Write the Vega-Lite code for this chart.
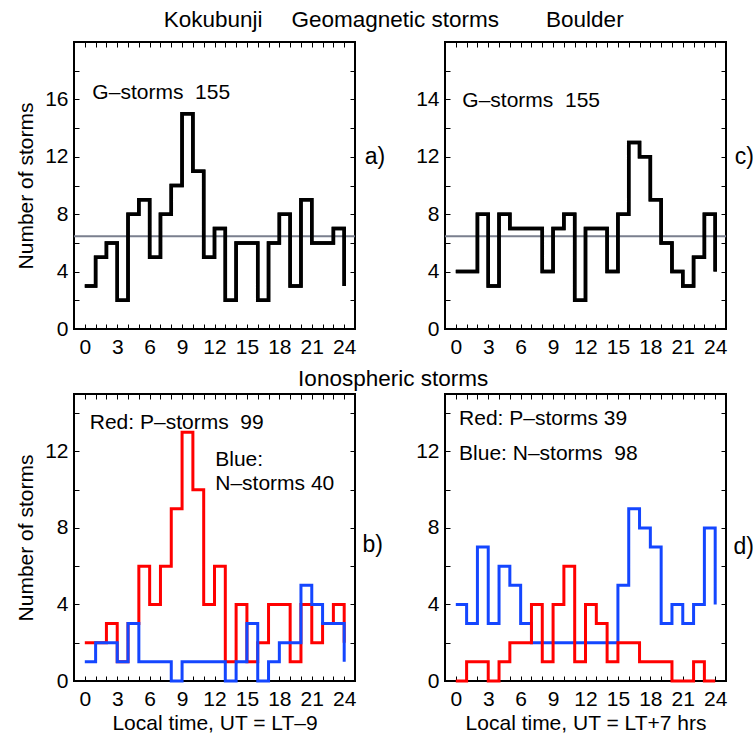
{
  "$schema": "https://vega.github.io/schema/vega-lite/v6.json",
  "padding": {"left": 14, "top": 8, "right": 0, "bottom": 0},
  "config": {
    "font": "Liberation Sans",
    "view": {"stroke": "black", "strokeWidth": 2},
    "axis": {
      "domain": false, "grid": false, "tickSize": -5, "tickColor": "black", "tickWidth": 1,
      "labelFontSize": 21, "labelColor": "black", "labelPadding": 11, "labelFlush": false, "labelOverlap": false,
      "labelFont": "Liberation Sans", "titleFont": "Liberation Sans", "minExtent": 0,
      "titleFontSize": 21, "titleFontWeight": "normal", "titleColor": "black"
    },
    "axisBottom": {"labelPadding": 12, "titlePadding": 3},
    "axisLeft": {"titlePadding": 8},
    "text": {"font": "Liberation Sans", "fontSize": 21, "color": "black"}
  },
  "datasets": {
    "note": [{}],
    "kokubunji_g": [
      {"hour": 0, "storms": 3}, {"hour": 1, "storms": 5}, {"hour": 2, "storms": 6}, {"hour": 3, "storms": 2},
      {"hour": 4, "storms": 8}, {"hour": 5, "storms": 9}, {"hour": 6, "storms": 5}, {"hour": 7, "storms": 8},
      {"hour": 8, "storms": 10}, {"hour": 9, "storms": 15}, {"hour": 10, "storms": 11}, {"hour": 11, "storms": 5},
      {"hour": 12, "storms": 7}, {"hour": 13, "storms": 2}, {"hour": 14, "storms": 6}, {"hour": 15, "storms": 6},
      {"hour": 16, "storms": 2}, {"hour": 17, "storms": 6}, {"hour": 18, "storms": 8}, {"hour": 19, "storms": 3},
      {"hour": 20, "storms": 9}, {"hour": 21, "storms": 6}, {"hour": 22, "storms": 6}, {"hour": 23, "storms": 7},
      {"hour": 24, "storms": 3}
    ],
    "boulder_g": [
      {"hour": 0, "storms": 4}, {"hour": 1, "storms": 4}, {"hour": 2, "storms": 8}, {"hour": 3, "storms": 3},
      {"hour": 4, "storms": 8}, {"hour": 5, "storms": 7}, {"hour": 6, "storms": 7}, {"hour": 7, "storms": 7},
      {"hour": 8, "storms": 4}, {"hour": 9, "storms": 7}, {"hour": 10, "storms": 8}, {"hour": 11, "storms": 2},
      {"hour": 12, "storms": 7}, {"hour": 13, "storms": 7}, {"hour": 14, "storms": 4}, {"hour": 15, "storms": 8},
      {"hour": 16, "storms": 13}, {"hour": 17, "storms": 12}, {"hour": 18, "storms": 9}, {"hour": 19, "storms": 6},
      {"hour": 20, "storms": 4}, {"hour": 21, "storms": 3}, {"hour": 22, "storms": 5}, {"hour": 23, "storms": 8},
      {"hour": 24, "storms": 4}
    ],
    "kokubunji_p": [
      {"hour": 0, "storms": 2}, {"hour": 1, "storms": 2}, {"hour": 2, "storms": 3}, {"hour": 3, "storms": 1},
      {"hour": 4, "storms": 3}, {"hour": 5, "storms": 6}, {"hour": 6, "storms": 4}, {"hour": 7, "storms": 6},
      {"hour": 8, "storms": 9}, {"hour": 9, "storms": 13}, {"hour": 10, "storms": 10}, {"hour": 11, "storms": 4},
      {"hour": 12, "storms": 6}, {"hour": 13, "storms": 1}, {"hour": 14, "storms": 4}, {"hour": 15, "storms": 1},
      {"hour": 16, "storms": 2}, {"hour": 17, "storms": 4}, {"hour": 18, "storms": 4}, {"hour": 19, "storms": 1},
      {"hour": 20, "storms": 4}, {"hour": 21, "storms": 2}, {"hour": 22, "storms": 3}, {"hour": 23, "storms": 4},
      {"hour": 24, "storms": 2}
    ],
    "kokubunji_n": [
      {"hour": 0, "storms": 1}, {"hour": 1, "storms": 2}, {"hour": 2, "storms": 2}, {"hour": 3, "storms": 1},
      {"hour": 4, "storms": 3}, {"hour": 5, "storms": 1}, {"hour": 6, "storms": 1}, {"hour": 7, "storms": 1},
      {"hour": 8, "storms": 0}, {"hour": 9, "storms": 1}, {"hour": 10, "storms": 1}, {"hour": 11, "storms": 1},
      {"hour": 12, "storms": 1}, {"hour": 13, "storms": 0}, {"hour": 14, "storms": 1}, {"hour": 15, "storms": 3},
      {"hour": 16, "storms": 0}, {"hour": 17, "storms": 1}, {"hour": 18, "storms": 2}, {"hour": 19, "storms": 2},
      {"hour": 20, "storms": 5}, {"hour": 21, "storms": 4}, {"hour": 22, "storms": 3}, {"hour": 23, "storms": 3},
      {"hour": 24, "storms": 1}
    ],
    "boulder_p": [
      {"hour": 0, "storms": 0}, {"hour": 1, "storms": 1}, {"hour": 2, "storms": 1}, {"hour": 3, "storms": 0},
      {"hour": 4, "storms": 1}, {"hour": 5, "storms": 2}, {"hour": 6, "storms": 2}, {"hour": 7, "storms": 4},
      {"hour": 8, "storms": 1}, {"hour": 9, "storms": 4}, {"hour": 10, "storms": 6}, {"hour": 11, "storms": 1},
      {"hour": 12, "storms": 4}, {"hour": 13, "storms": 3}, {"hour": 14, "storms": 1}, {"hour": 15, "storms": 2},
      {"hour": 16, "storms": 2}, {"hour": 17, "storms": 1}, {"hour": 18, "storms": 1}, {"hour": 19, "storms": 1},
      {"hour": 20, "storms": 0}, {"hour": 21, "storms": 0}, {"hour": 22, "storms": 1}, {"hour": 23, "storms": 0},
      {"hour": 24, "storms": 0}
    ],
    "boulder_n": [
      {"hour": 0, "storms": 4}, {"hour": 1, "storms": 3}, {"hour": 2, "storms": 7}, {"hour": 3, "storms": 3},
      {"hour": 4, "storms": 6}, {"hour": 5, "storms": 5}, {"hour": 6, "storms": 3}, {"hour": 7, "storms": 2},
      {"hour": 8, "storms": 2}, {"hour": 9, "storms": 2}, {"hour": 10, "storms": 2}, {"hour": 11, "storms": 2},
      {"hour": 12, "storms": 2}, {"hour": 13, "storms": 2}, {"hour": 14, "storms": 2}, {"hour": 15, "storms": 5},
      {"hour": 16, "storms": 9}, {"hour": 17, "storms": 8}, {"hour": 18, "storms": 7}, {"hour": 19, "storms": 3},
      {"hour": 20, "storms": 4}, {"hour": 21, "storms": 3}, {"hour": 22, "storms": 4}, {"hour": 23, "storms": 8},
      {"hour": 24, "storms": 4}
    ]
  },
  "bounds": "flush",
  "columns": 2,
  "spacing": {"row": 65, "column": 90},
  "concat": [
    {
      "width": 281, "height": 287,
      "resolve": {"axis": {"x": "independent", "y": "independent"}},
      "layer": [
        {
          "data": {"name": "kokubunji_g"},
          "transform": [{"filter": {"field": "hour", "lt": 24}}, {"aggregate": [{"op": "mean", "field": "storms", "as": "mean_storms"}]}],
          "mark": {"type": "rule", "color": "#7a7f8e", "strokeWidth": 2},
          "encoding": {"y": {"field": "mean_storms", "type": "quantitative", "axis": null, "scale": {"domain": [0, 20], "nice": false}}}
        },
        {
          "data": {"name": "kokubunji_g"},
          "mark": {"type": "line", "interpolate": "step-after", "color": "black", "strokeWidth": 3.5, "strokeJoin": "miter"},
          "encoding": {
            "x": {"field": "hour", "type": "quantitative", "scale": {"domain": [-1, 25], "nice": false, "zero": false},
                  "axis": {"orient": "bottom", "values": [0,1,2,3,4,5,6,7,8,9,10,11,12,13,14,15,16,17,18,19,20,21,22,23,24], "labelExpr": "datum.value % 3 === 0 ? datum.label : ''", "title": null}},
            "y": {"field": "storms", "type": "quantitative", "scale": {"domain": [0, 20], "nice": false},
                  "axis": {"orient": "left", "values": [0,2,4,6,8,10,12,14,16,18], "labelExpr": "datum.value % 4 === 0 ? datum.label : ''", "title": "Number of storms"}}
          }
        },
        {
          "data": {"name": "kokubunji_g"},
          "mark": {"type": "line", "interpolate": "step-after", "color": "black", "strokeWidth": 3.5, "strokeJoin": "miter"},
          "encoding": {
            "x": {"field": "hour", "type": "quantitative", "axis": {"orient": "top", "values": [0,1,2,3,4,5,6,7,8,9,10,11,12,13,14,15,16,17,18,19,20,21,22,23,24], "labels": false, "title": null}},
            "y": {"field": "storms", "type": "quantitative", "axis": {"orient": "right", "values": [0,2,4,6,8,10,12,14,16,18], "labels": false, "title": null}}
          }
        },
        {
          "data": {"name": "note"},
          "mark": {"type": "text", "align": "left", "baseline": "alphabetic", "text": "G–storms\u00a0 155"},
          "encoding": {"x": {"datum": 0.7, "type": "quantitative", "axis": null}, "y": {"datum": 16, "type": "quantitative", "axis": null}}
        },
        {
          "data": {"name": "note"},
          "mark": {"type": "text", "align": "center", "baseline": "alphabetic", "fontSize": 22.5, "text": "Kokubunji"},
          "encoding": {"x": {"datum": 11.87, "type": "quantitative", "axis": null}, "y": {"datum": 21.03, "type": "quantitative", "axis": null}}
        },
        {
          "data": {"name": "note"},
          "mark": {"type": "text", "align": "center", "baseline": "alphabetic", "fontSize": 22.5, "text": "Geomagnetic storms"},
          "encoding": {"x": {"datum": 28.72, "type": "quantitative", "axis": null}, "y": {"datum": 21.03, "type": "quantitative", "axis": null}}
        },
        {
          "data": {"name": "note"},
          "mark": {"type": "text", "align": "left", "baseline": "middle", "fontSize": 23, "text": "a)"},
          "encoding": {"x": {"datum": 25.9, "type": "quantitative", "axis": null}, "y": {"datum": 12, "type": "quantitative", "axis": null}}
        }
      ]
    },
    {
      "width": 281, "height": 287,
      "resolve": {"axis": {"x": "independent", "y": "independent"}},
      "layer": [
        {
          "data": {"name": "boulder_g"},
          "transform": [{"filter": {"field": "hour", "lt": 24}}, {"aggregate": [{"op": "mean", "field": "storms", "as": "mean_storms"}]}],
          "mark": {"type": "rule", "color": "#7a7f8e", "strokeWidth": 2},
          "encoding": {"y": {"field": "mean_storms", "type": "quantitative", "axis": null, "scale": {"domain": [0, 20], "nice": false}}}
        },
        {
          "data": {"name": "boulder_g"},
          "mark": {"type": "line", "interpolate": "step-after", "color": "black", "strokeWidth": 3.5, "strokeJoin": "miter"},
          "encoding": {
            "x": {"field": "hour", "type": "quantitative", "scale": {"domain": [-1, 25], "nice": false, "zero": false},
                  "axis": {"orient": "bottom", "values": [0,1,2,3,4,5,6,7,8,9,10,11,12,13,14,15,16,17,18,19,20,21,22,23,24], "labelExpr": "datum.value % 3 === 0 ? datum.label : ''", "title": null}},
            "y": {"field": "storms", "type": "quantitative", "scale": {"domain": [0, 20], "nice": false},
                  "axis": {"orient": "left", "values": [0,2,4,6,8,10,12,14,16,18], "labelExpr": "datum.value === 16 ? '14' : (datum.value % 4 === 0 ? datum.label : '')", "title": null}}
          }
        },
        {
          "data": {"name": "boulder_g"},
          "mark": {"type": "line", "interpolate": "step-after", "color": "black", "strokeWidth": 3.5, "strokeJoin": "miter"},
          "encoding": {
            "x": {"field": "hour", "type": "quantitative", "axis": {"orient": "top", "values": [0,1,2,3,4,5,6,7,8,9,10,11,12,13,14,15,16,17,18,19,20,21,22,23,24], "labels": false, "title": null}},
            "y": {"field": "storms", "type": "quantitative", "axis": {"orient": "right", "values": [0,2,4,6,8,10,12,14,16,18], "labels": false, "title": null}}
          }
        },
        {
          "data": {"name": "note"},
          "mark": {"type": "text", "align": "left", "baseline": "alphabetic", "text": "G–storms\u00a0 155"},
          "encoding": {"x": {"datum": 0.6, "type": "quantitative", "axis": null}, "y": {"datum": 15.5, "type": "quantitative", "axis": null}}
        },
        {
          "data": {"name": "note"},
          "mark": {"type": "text", "align": "center", "baseline": "alphabetic", "fontSize": 22.5, "text": "Boulder"},
          "encoding": {"x": {"datum": 11.94, "type": "quantitative", "axis": null}, "y": {"datum": 21.03, "type": "quantitative", "axis": null}}
        },
        {
          "data": {"name": "note"},
          "mark": {"type": "text", "align": "left", "baseline": "middle", "fontSize": 23, "text": "c)"},
          "encoding": {"x": {"datum": 25.8, "type": "quantitative", "axis": null}, "y": {"datum": 12, "type": "quantitative", "axis": null}}
        }
      ]
    },
    {
      "width": 281, "height": 287,
      "resolve": {"axis": {"x": "independent", "y": "independent"}},
      "layer": [
        {
          "data": {"name": "kokubunji_p"},
          "mark": {"type": "line", "interpolate": "step-after", "color": "#ff0000", "strokeWidth": 3, "strokeJoin": "miter"},
          "encoding": {
            "x": {"field": "hour", "type": "quantitative", "scale": {"domain": [-1, 25], "nice": false, "zero": false},
                  "axis": {"orient": "bottom", "values": [0,1,2,3,4,5,6,7,8,9,10,11,12,13,14,15,16,17,18,19,20,21,22,23,24], "labelExpr": "datum.value % 3 === 0 ? datum.label : ''", "title": "Local time, UT = LT–9"}},
            "y": {"field": "storms", "type": "quantitative", "scale": {"domain": [0, 15], "nice": false},
                  "axis": {"orient": "left", "values": [0,2,4,6,8,10,12,14], "labelExpr": "datum.value % 4 === 0 ? datum.label : ''", "title": "Number of storms"}}
          }
        },
        {
          "data": {"name": "kokubunji_n"},
          "mark": {"type": "line", "interpolate": "step-after", "color": "#1446ff", "strokeWidth": 3, "strokeJoin": "miter"},
          "encoding": {
            "x": {"field": "hour", "type": "quantitative", "axis": {"orient": "top", "values": [0,1,2,3,4,5,6,7,8,9,10,11,12,13,14,15,16,17,18,19,20,21,22,23,24], "labels": false, "title": null}},
            "y": {"field": "storms", "type": "quantitative", "axis": {"orient": "right", "values": [0,2,4,6,8,10,12,14], "labels": false, "title": null}}
          }
        },
        {
          "data": {"name": "note"},
          "mark": {"type": "text", "align": "left", "baseline": "alphabetic", "text": "Red: P–storms\u00a0 99"},
          "encoding": {"x": {"datum": 0.46, "type": "quantitative", "axis": null}, "y": {"datum": 13.17, "type": "quantitative", "axis": null}}
        },
        {
          "data": {"name": "note"},
          "mark": {"type": "text", "align": "left", "baseline": "alphabetic", "text": "Blue:"},
          "encoding": {"x": {"datum": 12.07, "type": "quantitative", "axis": null}, "y": {"datum": 11.25, "type": "quantitative", "axis": null}}
        },
        {
          "data": {"name": "note"},
          "mark": {"type": "text", "align": "left", "baseline": "alphabetic", "text": "N–storms 40"},
          "encoding": {"x": {"datum": 12.07, "type": "quantitative", "axis": null}, "y": {"datum": 9.98, "type": "quantitative", "axis": null}}
        },
        {
          "data": {"name": "note"},
          "mark": {"type": "text", "align": "center", "baseline": "alphabetic", "fontSize": 22.5, "text": "Ionospheric storms"},
          "encoding": {"x": {"datum": 28.53, "type": "quantitative", "axis": null}, "y": {"datum": 15.42, "type": "quantitative", "axis": null}}
        },
        {
          "data": {"name": "note"},
          "mark": {"type": "text", "align": "left", "baseline": "middle", "fontSize": 23, "text": "b)"},
          "encoding": {"x": {"datum": 25.7, "type": "quantitative", "axis": null}, "y": {"datum": 7.1, "type": "quantitative", "axis": null}}
        }
      ]
    },
    {
      "width": 281, "height": 287,
      "resolve": {"axis": {"x": "independent", "y": "independent"}},
      "layer": [
        {
          "data": {"name": "boulder_n"},
          "mark": {"type": "line", "interpolate": "step-after", "color": "#1446ff", "strokeWidth": 3, "strokeJoin": "miter"},
          "encoding": {
            "x": {"field": "hour", "type": "quantitative", "scale": {"domain": [-1, 25], "nice": false, "zero": false},
                  "axis": {"orient": "bottom", "values": [0,1,2,3,4,5,6,7,8,9,10,11,12,13,14,15,16,17,18,19,20,21,22,23,24], "labelExpr": "datum.value % 3 === 0 ? datum.label : ''", "title": "Local time, UT = LT+7 hrs"}},
            "y": {"field": "storms", "type": "quantitative", "scale": {"domain": [0, 15], "nice": false},
                  "axis": {"orient": "left", "values": [0,2,4,6,8,10,12,14], "labelExpr": "datum.value % 4 === 0 ? datum.label : ''", "title": null}}
          }
        },
        {
          "data": {"name": "boulder_p"},
          "mark": {"type": "line", "interpolate": "step-after", "color": "#ff0000", "strokeWidth": 3, "strokeJoin": "miter"},
          "encoding": {
            "x": {"field": "hour", "type": "quantitative", "axis": {"orient": "top", "values": [0,1,2,3,4,5,6,7,8,9,10,11,12,13,14,15,16,17,18,19,20,21,22,23,24], "labels": false, "title": null}},
            "y": {"field": "storms", "type": "quantitative", "axis": {"orient": "right", "values": [0,2,4,6,8,10,12,14], "labels": false, "title": null}}
          }
        },
        {
          "data": {"name": "note"},
          "mark": {"type": "text", "align": "left", "baseline": "alphabetic", "text": "Red: P–storms 39"},
          "encoding": {"x": {"datum": 0.3, "type": "quantitative", "axis": null}, "y": {"datum": 13.4, "type": "quantitative", "axis": null}}
        },
        {
          "data": {"name": "note"},
          "mark": {"type": "text", "align": "left", "baseline": "alphabetic", "text": "Blue: N–storms\u00a0 98"},
          "encoding": {"x": {"datum": 0.3, "type": "quantitative", "axis": null}, "y": {"datum": 11.57, "type": "quantitative", "axis": null}}
        },
        {
          "data": {"name": "note"},
          "mark": {"type": "text", "align": "left", "baseline": "middle", "fontSize": 23, "text": "d)"},
          "encoding": {"x": {"datum": 25.7, "type": "quantitative", "axis": null}, "y": {"datum": 7, "type": "quantitative", "axis": null}}
        }
      ]
    }
  ]
}
